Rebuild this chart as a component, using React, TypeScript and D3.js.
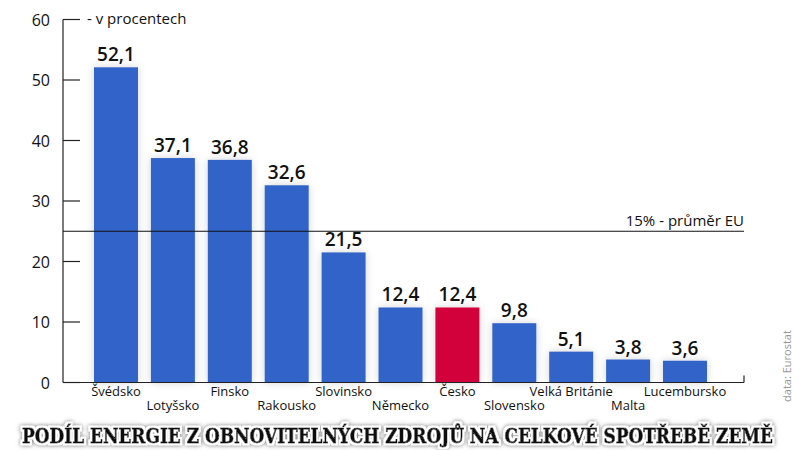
import React from "react";
import * as d3 from "d3";

const categories = [
  "Švédsko",
  "Lotyšsko",
  "Finsko",
  "Rakousko",
  "Slovinsko",
  "Německo",
  "Česko",
  "Slovensko",
  "Velká Británie",
  "Malta",
  "Lucembursko",
];
const values = [52.1, 37.1, 36.8, 32.6, 21.5, 12.4, 12.4, 9.8, 5.1, 3.8, 3.6];
const yTicks = [0, 10, 20, 30, 40, 50, 60];
const euLine = 25;
const highlight = "Česko";

const width = 798;
const height = 450;
const blue = "#3264c8";
const red = "#d2003a";
const font = "'Open Sans', 'Noto Sans', sans-serif";

const fmt = (v: number) => v.toFixed(1).replace(".", ",");

export default function App() {
  const x = d3.scaleBand<string>().domain(categories).range([94, 707]).paddingInner(0.227).paddingOuter(0);
  const y = d3.scaleLinear().domain([0, 60]).range([382.5, 19.5]);
  const axisX = 63;
  const axisEnd = 744;

  return (
    <svg
      width={width}
      height={height}
      style={{ position: "absolute", top: 0, left: 0, background: "#fff" }}
      fontFamily={font}
    >
      <defs>
        <filter id="barShadow" x="-30%" y="-10%" width="160%" height="120%">
          <feGaussianBlur in="SourceAlpha" stdDeviation="4" />
          <feComponentTransfer>
            <feFuncA type="linear" slope="0.18" />
          </feComponentTransfer>
          <feMerge>
            <feMergeNode />
            <feMergeNode in="SourceGraphic" />
          </feMerge>
        </filter>
        <filter id="titleShadow" x="-5%" y="-50%" width="110%" height="200%">
          <feMorphology in="SourceAlpha" operator="dilate" radius="1.5" result="fat" />
          <feGaussianBlur in="fat" stdDeviation="2" result="blur" />
          <feFlood floodColor="#777" result="grey" />
          <feComposite in="grey" in2="blur" operator="in" result="shadow" />
          <feFlood floodColor="#fff" result="white" />
          <feComposite in="white" in2="fat" operator="in" result="outline" />
          <feMerge>
            <feMergeNode in="shadow" />
            <feMergeNode in="outline" />
            <feMergeNode in="SourceGraphic" />
          </feMerge>
        </filter>
      </defs>

      {/* bars */}
      <g filter="url(#barShadow)">
        {categories.map((c, i) => (
          <rect
            key={c}
            x={x(c)}
            y={y(values[i])}
            width={x.bandwidth()}
            height={y(0) - y(values[i])}
            fill={c === highlight ? red : blue}
          />
        ))}
      </g>

      {/* value labels */}
      {categories.map((c, i) => (
        <text
          key={c}
          x={(x(c) as number) + x.bandwidth() / 2}
          y={y(values[i]) - 6}
          textAnchor="middle"
          fontSize={19}
          fontWeight={600}
          fill="#111"
        >
          {fmt(values[i])}
        </text>
      ))}

      {/* axes */}
      <line x1={axisX} x2={axisX} y1={y(60)} y2={y(0)} stroke="#222" strokeWidth={1.2} />
      <line x1={axisX} x2={axisEnd} y1={y(0)} y2={y(0)} stroke="#222" strokeWidth={1.2} />
      <line x1={axisEnd} x2={axisEnd} y1={y(0)} y2={y(0) - 7} stroke="#222" strokeWidth={1.2} />
      {yTicks.map((t) => (
        <g key={t}>
          <line x1={axisX} x2={axisX + 17} y1={y(t)} y2={y(t)} stroke="#222" strokeWidth={1.2} />
          <text x={50} y={y(t) + 6} textAnchor="end" fontSize={16} fill="#111">
            {t}
          </text>
        </g>
      ))}
      <text x={87} y={24} fontSize={15} fill="#111">
        - v procentech
      </text>

      {/* EU average line */}
      <line x1={axisX} x2={axisEnd} y1={y(euLine)} y2={y(euLine)} stroke="#111" strokeWidth={1.2} />
      <text x={axisEnd} y={y(euLine) - 5} textAnchor="end" fontSize={15} fill="#111">
        15% - průměr EU
      </text>

      {/* category labels */}
      {categories.map((c, i) => (
        <text
          key={c}
          x={(x(c) as number) + x.bandwidth() / 2}
          y={i % 2 === 0 ? 396 : 410}
          textAnchor="middle"
          fontSize={13}
          fill="#111"
        >
          {c}
        </text>
      ))}

      {/* source */}
      <text
        transform="translate(791,366) rotate(-90)"
        textAnchor="middle"
        fontSize={11}
        fill="#999"
      >
        data: Eurostat
      </text>

      {/* title */}
      <g filter="url(#titleShadow)">
        <text
          transform="translate(397.5,443) scale(1,1.15)"
          textAnchor="middle"
          fontFamily="'DejaVu Serif', serif"
          fontWeight="bold"
          fontSize={17}
          textLength={751}
          lengthAdjust="spacingAndGlyphs"
          fill="#111"
          stroke="#111"
          strokeWidth={0.7}
        >
          PODÍL ENERGIE Z OBNOVITELNÝCH ZDROJŮ NA CELKOVÉ SPOTŘEBĚ ZEMĚ
        </text>
      </g>
    </svg>
  );
}
